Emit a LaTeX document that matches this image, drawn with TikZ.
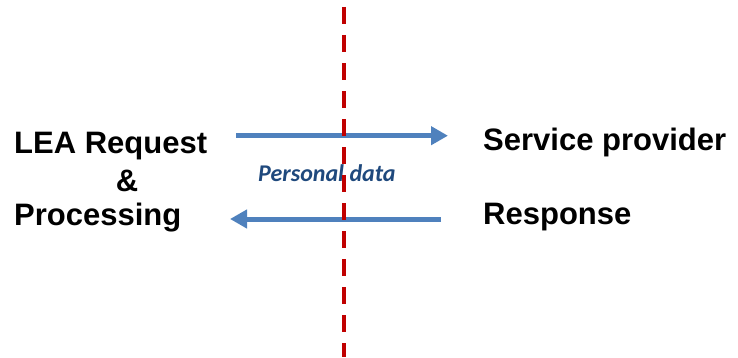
\documentclass[tikz,border=0pt]{standalone}
\usepackage{fontspec}
\setmainfont{Liberation Sans}
\newfontfamily\calfont{Carlito}
\usetikzlibrary{arrows.meta}
\definecolor{arrowblue}{HTML}{4F81BD}
\definecolor{dashred}{HTML}{C00000}
\definecolor{textblue}{HTML}{1F497D}
\begin{document}
\begin{tikzpicture}[x=1pt,y=1pt,
  lbl/.style={inner sep=0pt,font=\fontsize{31}{31}\selectfont\bfseries,text=black},
  flow/.style={draw=arrowblue,line width=5pt,-{Triangle[length=17pt,width=18pt]}},
  boundary/.style={draw=dashred,line width=4pt,dash pattern=on 17pt off 11pt}]
\useasboundingbox (0,0) rectangle (738,357);
\node[lbl,anchor=base west] (lea) at (14,204) {LEA Request};
\node[lbl,anchor=base] (amp) at (127,166) {\&};
\node[lbl,anchor=base west] (proc) at (14,132) {Processing};
\node[lbl,anchor=base west] (sp) at (483,207) {Service provider};
\node[lbl,anchor=base west] (resp) at (483,133) {Response};
\node[inner sep=0pt,anchor=base west,text=textblue,font=\calfont\fontsize{24}{24}\selectfont\bfseries\itshape] (pd) at (258,176) {Personal data};
\coordinate (reqstart) at (236,221.3);
\coordinate (reqend) at (448,221.3);
\coordinate (respstart) at (441,138);
\coordinate (respend) at (230,138);
\draw[flow] (reqstart) -- (reqend);
\draw[flow] (respstart) -- (respend);
\coordinate (btop) at (343.5,350);
\coordinate (bbot) at (343.5,0);
\draw[boundary] (btop) -- (bbot);
\end{tikzpicture}
\end{document}
